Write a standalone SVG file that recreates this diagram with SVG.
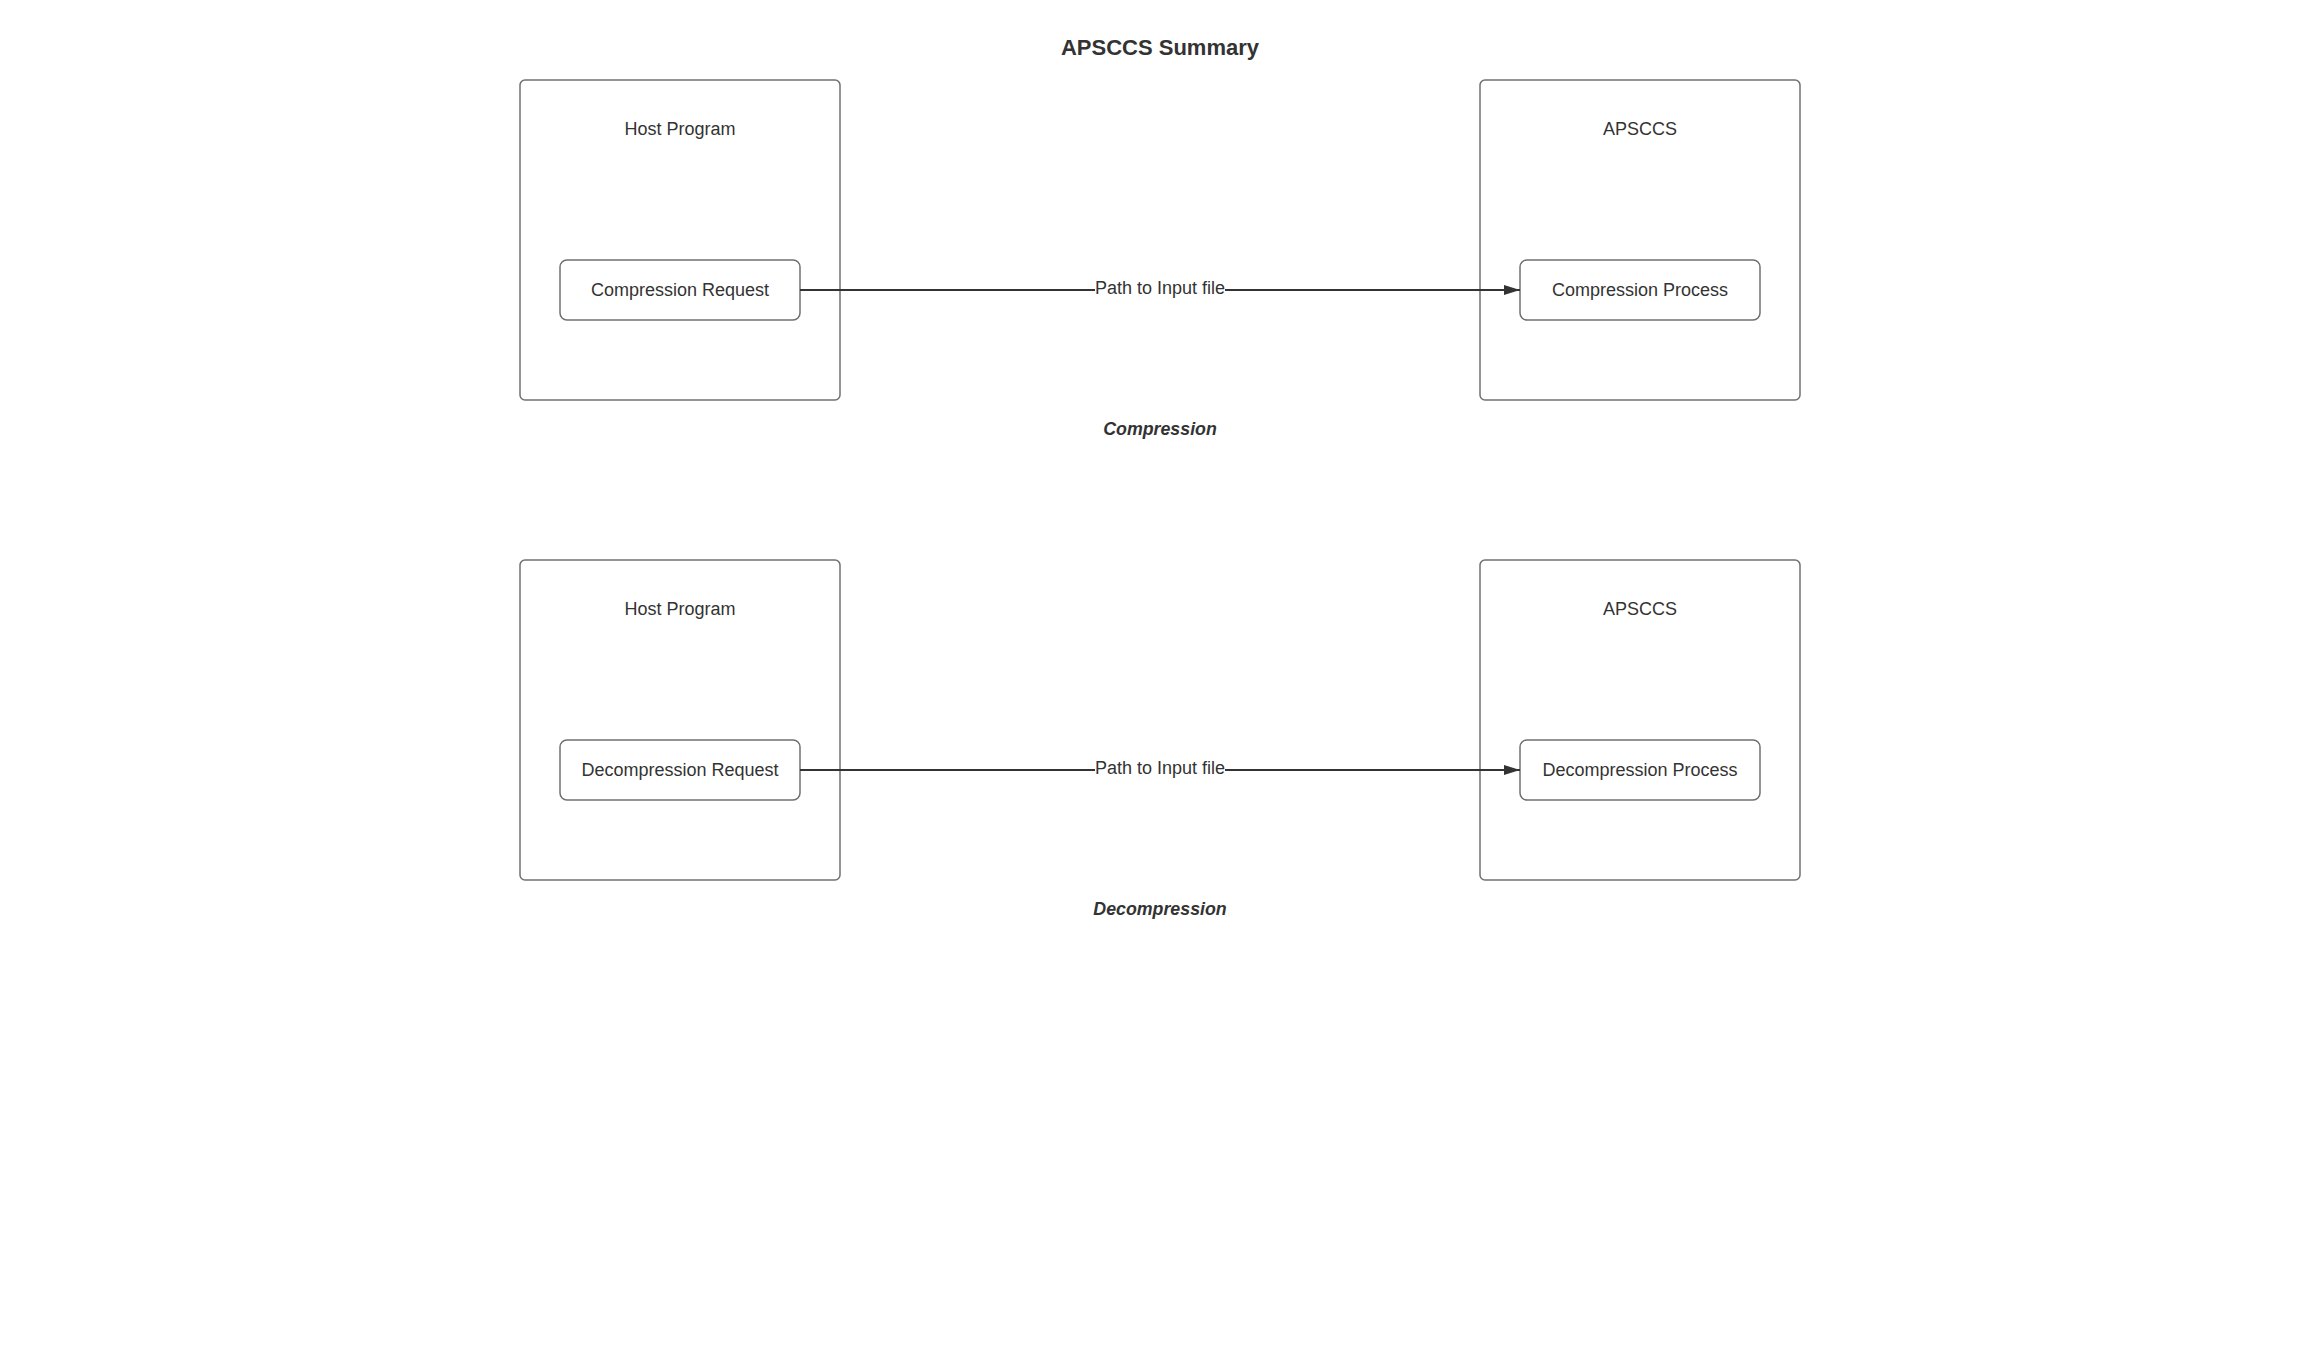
<svg xmlns="http://www.w3.org/2000/svg" width="2320" height="1360" viewBox="0 0 2320 1360">
<style>
text{font-family:"Liberation Sans",Arial,sans-serif;fill:#333333;text-anchor:middle}
.t{font-size:22px;font-weight:bold}
.l{font-size:18px}
.c{font-size:17.8px;font-weight:bold;font-style:italic}
.outer{fill:#ffffff;stroke:#707070;stroke-width:1.5}
.inner{fill:#ffffff;stroke:#707070;stroke-width:1.5}
.edge{stroke:#333333;stroke-width:2.2;fill:none}
.bg{fill:#ffffff}
</style>
<defs>
<marker id="arr" viewBox="0 0 16 10" refX="16" refY="5" markerWidth="16" markerHeight="10" markerUnits="userSpaceOnUse" orient="auto">
<path d="M0,0 L16,5 L0,10 Z" fill="#333333"/>
</marker>
</defs>
<rect width="2320" height="1360" fill="#ffffff"/>
<text class="t" x="1160" y="55">APSCCS Summary</text>

<g id="host1"><rect class="outer" x="520" y="80" width="320" height="320" rx="5"/><text class="l" x="680" y="135">Host Program</text></g>
<g id="apsccs1"><rect class="outer" x="1480" y="80" width="320" height="320" rx="5"/><text class="l" x="1640" y="135">APSCCS</text></g>
<g id="creq"><rect class="inner" x="560" y="260" width="240" height="60" rx="7"/><text class="l" x="680" y="296">Compression Request</text></g>
<g id="cproc"><rect class="inner" x="1520" y="260" width="240" height="60" rx="7"/><text class="l" x="1640" y="296">Compression Process</text></g>
<text class="c" x="1160" y="435">Compression</text>

<g id="host2"><rect class="outer" x="520" y="560" width="320" height="320" rx="5"/><text class="l" x="680" y="615">Host Program</text></g>
<g id="apsccs2"><rect class="outer" x="1480" y="560" width="320" height="320" rx="5"/><text class="l" x="1640" y="615">APSCCS</text></g>
<g id="dreq"><rect class="inner" x="560" y="740" width="240" height="60" rx="7"/><text class="l" x="680" y="776">Decompression Request</text></g>
<g id="dproc"><rect class="inner" x="1520" y="740" width="240" height="60" rx="7"/><text class="l" x="1640" y="776">Decompression Process</text></g>
<text class="c" x="1160" y="915">Decompression</text>

<g id="connectors">
<path class="edge" d="M800,290 L1520,290" marker-end="url(#arr)"/>
<rect class="bg" x="1095" y="278" width="130" height="22"/>
<text class="l" x="1160" y="294">Path to Input file</text>
<path class="edge" d="M800,770 L1520,770" marker-end="url(#arr)"/>
<rect class="bg" x="1095" y="758" width="130" height="22"/>
<text class="l" x="1160" y="774">Path to Input file</text>
</g>
</svg>
